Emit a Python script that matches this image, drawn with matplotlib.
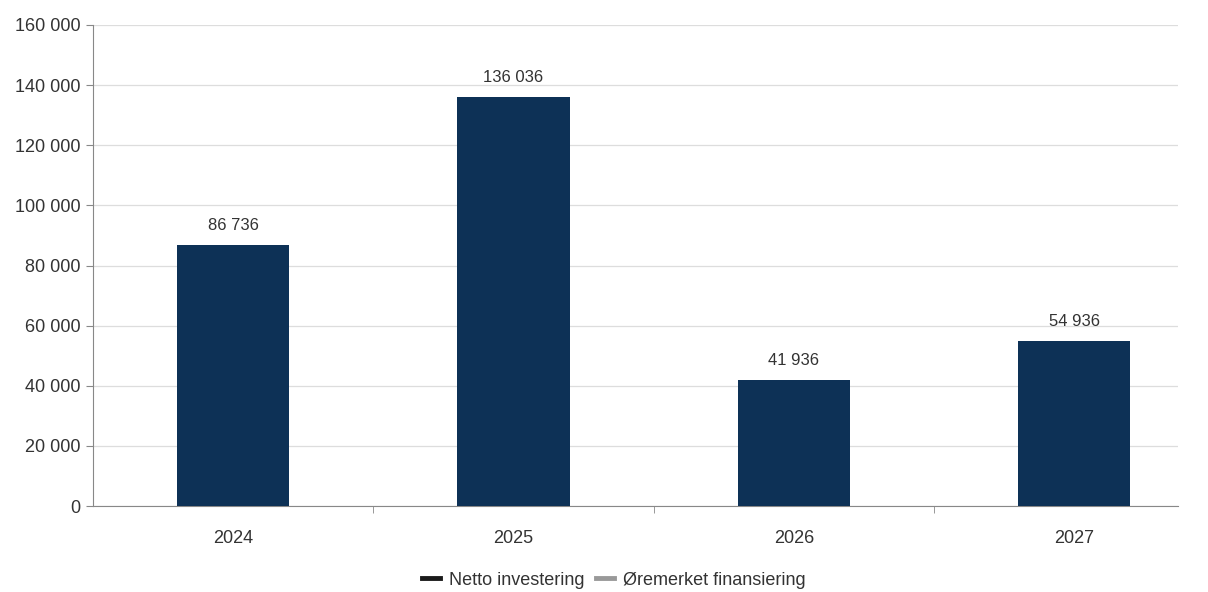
import matplotlib
matplotlib.use("Agg")
import matplotlib.pyplot as plt
from matplotlib.lines import Line2D

# data
years = ["2024", "2025", "2026", "2027"]
netto = [86736, 136036, 41936, 54936]
series_names = ["Netto investering", "Øremerket finansiering"]
yticks = [0, 20000, 40000, 60000, 80000, 100000, 120000, 140000, 160000]

plt.rcParams["font.family"] = ["Liberation Sans", "DejaVu Sans"]

def fmt(v):
    return f"{v:,}".replace(",", " ")

bar_color = "#0d3156"
text_color = "#333333"
fs = 13

fig = plt.figure(figsize=(12.08, 5.92), dpi=100)
ax = fig.add_axes([0.077, 0.145, 0.898, 0.813])

x = list(range(len(years)))
ax.bar(x, netto, width=0.40, color=bar_color, zorder=3)

for xi, v in zip(x, netto):
    ax.text(xi, v + 4000, fmt(v), ha="center", va="bottom", fontsize=12, color=text_color)

ax.set_ylim(0, 160000)
ax.set_xlim(-0.5, 3.37)
ax.set_yticks(yticks)
ax.set_yticklabels([fmt(t) for t in yticks], fontsize=fs, color=text_color)
ax.set_xticks(x)
ax.set_xticklabels(years, fontsize=fs, color=text_color)
ax.set_xticks([0.5, 1.5, 2.5], minor=True)
ax.tick_params(axis="x", which="major", length=0, pad=17)
ax.tick_params(axis="x", which="minor", length=5, color="#888888")
ax.tick_params(axis="y", length=5, color="#888888", pad=4)

ax.grid(axis="y", color="#dddddd", linewidth=0.9, zorder=0)
for s in ["top", "right"]:
    ax.spines[s].set_visible(False)
ax.spines["left"].set_color("#888888")
ax.spines["bottom"].set_color("#888888")

handles = [
    Line2D([0], [0], color="#1a1a1a", linewidth=3.5),
    Line2D([0], [0], color="#999999", linewidth=3.5),
]
fig.legend(handles, series_names, loc="center", bbox_to_anchor=(0.508, 0.02),
           ncol=2, frameon=False, fontsize=fs, handlelength=1.0,
           handletextpad=0.5, columnspacing=0.6, labelcolor=text_color)

fig.savefig("out.png", dpi=100)
